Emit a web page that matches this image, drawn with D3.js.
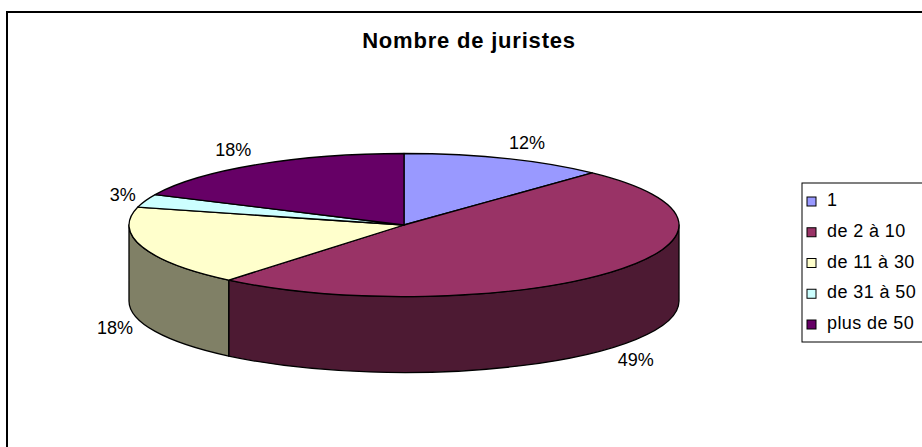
<!DOCTYPE html>
<html>
<head>
<meta charset="utf-8">
<script src="https://cdn.jsdelivr.net/npm/d3@7"></script>
<style>
  body { margin: 0; background: #fff; }
  text { font-family: "Liberation Sans", Arial, sans-serif; fill: #000; }
</style>
</head>
<body>
<div id="chart"></div>
<script>
// Nombre de juristes - 3D pie, Excel style

var categories = ["1", "de 2 à 10", "de 11 à 30", "de 31 à 50", "plus de 50"];
var shares = [12, 49, 18, 3, 18];   // percent
var colors = ["#9999FF", "#993366", "#FFFFCC", "#CCFFFF", "#660066"];

var svgWidth = 922;
var svgHeight = 447;

var cx = 404, cy = 225;      // centre of the top face
var rx = 275, ry = 71.5;     // ellipse radii
var depth = 76;              // thickness of the pie

var svg = d3.select("#chart")
  .append("svg")
  .attr("width", svgWidth)
  .attr("height", svgHeight);

// outer frame (right and bottom are cut off in the original)
svg.append("rect")
  .attr("x", 7)
  .attr("y", 12)
  .attr("width", 1000)
  .attr("height", 1000)
  .attr("fill", "none")
  .attr("stroke", "#000")
  .attr("stroke-width", 2);

// title
svg.append("text")
  .attr("x", 469)
  .attr("y", 48)
  .attr("text-anchor", "middle")
  .style("font-size", "22px")
  .style("font-weight", "bold")
  .style("letter-spacing", "0.8px")
  .text("Nombre de juristes");

// projection scales: unit circle -> ellipse
var xScale = d3.scaleLinear().domain([-1, 1]).range([cx - rx, cx + rx]);
var yScale = d3.scaleLinear().domain([-1, 1]).range([cy - ry, cy + ry]);

function pt(a, dy) {
  return [xScale(Math.sin(a)), yScale(-Math.cos(a)) + (dy || 0)];
}

var pie = d3.pie().sort(null).value(d => d);
var arcs = pie(shares);

function shade(c) {
  var r = d3.rgb(c);
  return d3.rgb(r.r * 0.5, r.g * 0.5, r.b * 0.5).formatHex();
}

// outer walls, only the front half (90deg .. 270deg) is visible
var sides = [];
arcs.forEach(function(d, i) {
  var s = Math.max(d.startAngle, Math.PI / 2);
  var e = Math.min(d.endAngle, Math.PI * 3 / 2);
  if (e > s) sides.push({ s: s, e: e, i: i });
});

svg.append("g").selectAll("path")
  .data(sides)
  .enter()
  .append("path")
  .attr("d", function(d) {
    var large = (d.e - d.s) > Math.PI ? 1 : 0;
    var p0 = pt(d.s), p1 = pt(d.e), p2 = pt(d.e, depth), p3 = pt(d.s, depth);
    return "M" + p0 + "A" + rx + "," + ry + " 0 " + large + " 1 " + p1 +
      "L" + p2 + "A" + rx + "," + ry + " 0 " + large + " 0 " + p3 + "Z";
  })
  .attr("fill", d => shade(colors[d.i]))
  .attr("stroke", "#000")
  .attr("stroke-width", 1.3)
  .attr("stroke-linejoin", "round");

// top faces
svg.append("g").selectAll("path")
  .data(arcs)
  .enter()
  .append("path")
  .attr("d", function(d) {
    var large = (d.endAngle - d.startAngle) > Math.PI ? 1 : 0;
    return "M" + [cx, cy] + "L" + pt(d.startAngle) +
      "A" + rx + "," + ry + " 0 " + large + " 1 " + pt(d.endAngle) + "Z";
  })
  .attr("fill", (d, i) => colors[i])
  .attr("stroke", "#000")
  .attr("stroke-width", 1.3)
  .attr("stroke-linejoin", "round");

// percentage labels, outside the slice at its mid angle
var fmt = d3.format(".0%");
var lxScale = d3.scaleLinear().domain([-1, 1]).range([cx - rx - 10, cx + rx + 10]);
var lyScale = d3.scaleLinear().domain([-1, 1]).range([cy - ry - 10, cy + ry + 10]);

svg.append("g").selectAll("text")
  .data(arcs)
  .enter()
  .append("text")
  .attr("x", function(d) {
    var m = (d.startAngle + d.endAngle) / 2;
    return lxScale(Math.sin(m));
  })
  .attr("y", function(d) {
    var m = (d.startAngle + d.endAngle) / 2;
    var c = Math.cos(m);
    return lyScale(-c) + (c < 0 ? depth : 0) - c * 7 + 6;
  })
  .attr("text-anchor", function(d) {
    var m = (d.startAngle + d.endAngle) / 2;
    return Math.sin(m) >= 0 ? "start" : "end";
  })
  .style("font-size", "18px")
  .text(d => fmt(d.data / 100));

// legend
var legend = svg.append("g");

legend.append("rect")
  .attr("x", 802)
  .attr("y", 183)
  .attr("width", 200)
  .attr("height", 159)
  .attr("fill", "#fff")
  .attr("stroke", "#000")
  .attr("stroke-width", 1);

var rowY = d3.scaleLinear().domain([0, 4]).range([206, 329]);

var rows = legend.selectAll("g.row")
  .data(categories)
  .enter()
  .append("g")
  .attr("class", "row")
  .attr("transform", (d, i) => `translate(0, ${rowY(i)})`);

rows.append("rect")
  .attr("x", 807)
  .attr("y", -9)
  .attr("width", 9)
  .attr("height", 9)
  .attr("fill", (d, i) => colors[i])
  .attr("stroke", "#000")
  .attr("stroke-width", 1);

rows.append("text")
  .attr("x", 827)
  .attr("y", 0)
  .style("font-size", "18px")
  .style("letter-spacing", "0.4px")
  .text(d => d);
</script>
</body>
</html>
